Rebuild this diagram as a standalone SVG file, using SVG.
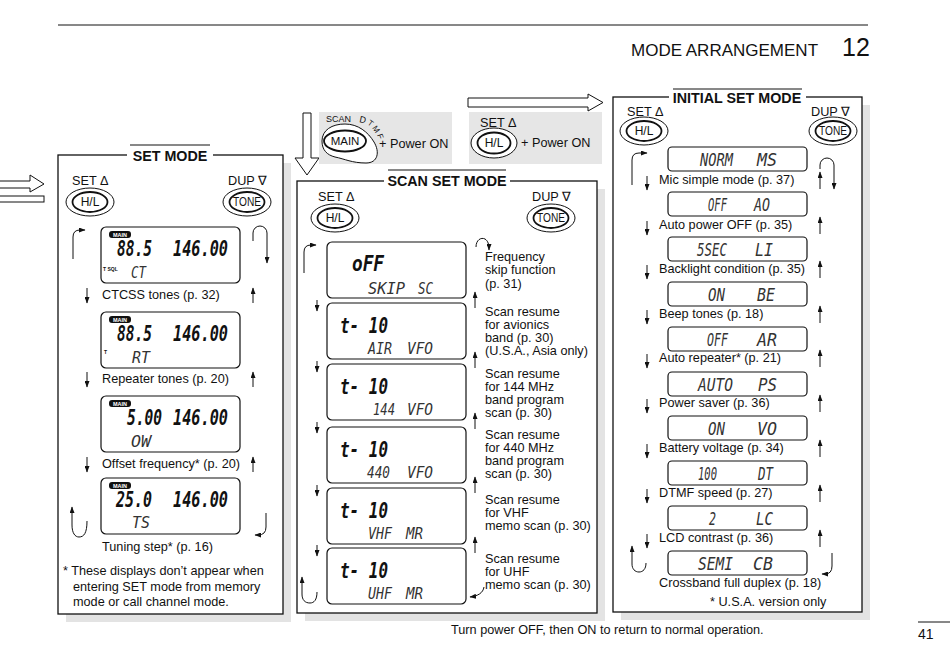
<svg xmlns="http://www.w3.org/2000/svg" width="950" height="669" viewBox="0 0 950 669">
<defs>
<marker id="ah" markerUnits="userSpaceOnUse" markerWidth="7" markerHeight="5" refX="6" refY="2.5" orient="auto"><path d="M0,0 L6.5,2.5 L0,5 z" fill="#111"/></marker>
</defs>
<style>
text{font-family:"Liberation Sans",Arial,sans-serif;fill:#111}
.lb{font-size:12.7px}
.ttl{font-size:14.3px;font-weight:bold;text-anchor:middle}
.sh{fill:#e3e3e3}
.pn{fill:#fff;stroke:#111;stroke-width:1.3}
.gb{fill:#e6e6e6}
.lcd{fill:#fff;stroke:#111;stroke-width:1.2}
.bg{font-family:"DejaVu Sans Mono",monospace;font-style:italic;font-weight:bold;font-size:21px}
.sm{font-family:"DejaVu Sans Mono",monospace;font-style:italic;font-size:15px;fill:#333}
.im{font-family:"DejaVu Sans Mono",monospace;font-style:italic;font-size:17px;fill:#333}
.bo{fill:#fff;stroke:#111;stroke-width:1}
.bi{fill:#fff;stroke:#111;stroke-width:1.8}
.bt{font-size:12px;text-anchor:middle}
.ar{fill:none;stroke:#111;stroke-width:1;marker-end:url(#ah)}
.ln{stroke:#111;stroke-width:1;fill:none}
.wt{fill:#fff;font-size:5.5px;font-weight:bold;text-anchor:middle}
.tiny{font-size:5px;font-weight:bold}
.ho{fill:#fff;stroke:#111;stroke-width:1}
</style>

<!-- header / footer -->
<g id="header">
<line class="ln" x1="58" y1="25" x2="868" y2="25"/>
<text x="631" y="56" font-size="17">MODE ARRANGEMENT</text>
<text x="842" y="56" font-size="25">12</text>
</g>
<g id="footer">
<text class="lb" x="451" y="634">Turn power OFF, then ON to return to normal operation.</text>
<line class="ln" x1="918" y1="622" x2="950" y2="622"/>
<text x="918" y="639" font-size="14">41</text>
</g>

<!-- entry arrows -->
<g id="entry-arrows">
<polygon class="ho" points="-2,181 30,181 30,175 44,184 30,192 30,188 -2,188"/>
<rect class="ho" x="-2" y="196" width="46" height="6"/>
<polygon class="ho" points="303,113 311,113 311,158 319,158 307,175 295,158 303,158"/>
<polygon class="ho" points="468,98 588,98 588,94 603,102.5 588,111 588,107 468,107"/>
</g>

<!-- top key combos -->
<g id="scan-entry">
<rect class="gb" x="319" y="112" width="133" height="52"/>
<text x="326" y="122" font-size="9">SCAN</text>
<text x="359" y="122" font-size="9" transform="rotate(12 359 122)">D</text>
<text x="367" y="124" font-size="8" transform="rotate(35 367 124)">T</text>
<text x="372" y="128" font-size="8" transform="rotate(55 372 128)">M</text>
<text x="377" y="135" font-size="8" transform="rotate(70 377 135)">F</text>
<path class="bo" d="M322,141 C322,130 332,124 345,124 C358,124 368,132 374,142 C380,152 378,163 366,163 C352,163 345,159 335,157 C327,155 322,150 322,141 Z"/>
<ellipse class="bi" cx="345" cy="141" rx="21" ry="10.5"/>
<text x="345" y="145" font-size="11.5" text-anchor="middle">MAIN</text>
<text class="lb" x="379" y="148">+ Power ON</text>
</g>
<g id="initial-entry">
<rect class="gb" x="469" y="112" width="133" height="52"/>
<text class="lb" x="480" y="127">SET Δ</text>
<ellipse class="bo" cx="494" cy="143" rx="23" ry="15"/>
<ellipse class="bi" cx="494" cy="143" rx="16.5" ry="10.5"/>
<text class="bt" x="494" y="147">H/L</text>
<text class="lb" x="521" y="147">+ Power ON</text>
</g>

<!-- SET MODE panel -->
<g id="set-mode">
<rect class="sh" x="66" y="163" width="225" height="459"/>
<rect class="pn" x="58" y="155" width="225" height="459"/>
<rect fill="#fff" x="127" y="149" width="86" height="14"/>
<line class="ln" x1="130" y1="145" x2="210" y2="145"/>
<text class="ttl" x="170" y="161">SET MODE</text>
<text class="lb" x="72" y="185">SET Δ</text>
<text class="lb" x="228" y="185">DUP ∇</text>
<text class="lb" x="102" y="299">CTCSS tones (p. 32)</text>
<text class="lb" x="102" y="383">Repeater tones (p. 20)</text>
<text class="lb" x="102" y="468">Offset frequency* (p. 20)</text>
<text class="lb" x="102" y="551">Tuning step* (p. 16)</text>
<text class="lb" x="63" y="575">* These displays don’t appear when</text>
<text class="lb" x="73" y="591">entering SET mode from memory</text>
<text class="lb" x="73" y="606">mode or call channel mode.</text>
</g>
<g id="set-hl"><ellipse class="bo" cx="90" cy="202" rx="24" ry="14"/><ellipse class="bi" cx="90" cy="202" rx="17.5" ry="10"/><text class="bt" x="90" y="206">H/L</text></g>
<g id="set-tone"><ellipse class="bo" cx="247" cy="202" rx="24" ry="14"/><ellipse class="bi" cx="247" cy="202" rx="17.5" ry="10"/><text class="bt" x="247" y="206" font-size="11" textLength="28" lengthAdjust="spacingAndGlyphs">TONE</text></g>

<g id="set-ct">
<rect class="lcd" x="101" y="227" width="139" height="56" rx="5"/>
<rect x="109" y="231" width="22" height="7" rx="3" fill="#111"/>
<text class="wt" x="120" y="237">MAIN</text>
<text class="bg" x="117" y="256" textLength="35" lengthAdjust="spacingAndGlyphs">88.5</text>
<text class="bg" x="173" y="256" textLength="55" lengthAdjust="spacingAndGlyphs">146.00</text>
<text class="tiny" x="103" y="271">T SQL</text>
<text class="sm" x="131" y="278" textLength="15" lengthAdjust="spacingAndGlyphs">CT</text>
</g>
<g id="set-rt">
<rect class="lcd" x="101" y="312" width="139" height="56" rx="5"/>
<rect x="109" y="316" width="22" height="7" rx="3" fill="#111"/>
<text class="wt" x="120" y="322">MAIN</text>
<text class="bg" x="117" y="341" textLength="35" lengthAdjust="spacingAndGlyphs">88.5</text>
<text class="bg" x="173" y="341" textLength="55" lengthAdjust="spacingAndGlyphs">146.00</text>
<text class="tiny" x="104" y="354">T</text>
<text class="sm" x="132" y="363" textLength="18" lengthAdjust="spacingAndGlyphs">RT</text>
</g>
<g id="set-ow">
<rect class="lcd" x="101" y="396" width="139" height="56" rx="5"/>
<rect x="109" y="400" width="22" height="7" rx="3" fill="#111"/>
<text class="wt" x="120" y="406">MAIN</text>
<text class="bg" x="127" y="425" textLength="35" lengthAdjust="spacingAndGlyphs">5.00</text>
<text class="bg" x="173" y="425" textLength="55" lengthAdjust="spacingAndGlyphs">146.00</text>
<text class="sm" x="131" y="447" textLength="20" lengthAdjust="spacingAndGlyphs">OW</text>
</g>
<g id="set-ts">
<rect class="lcd" x="101" y="478" width="139" height="56" rx="5"/>
<rect x="109" y="482" width="22" height="7" rx="3" fill="#111"/>
<text class="wt" x="120" y="488">MAIN</text>
<text class="bg" x="116" y="507" textLength="36" lengthAdjust="spacingAndGlyphs">25.0</text>
<text class="bg" x="173" y="507" textLength="55" lengthAdjust="spacingAndGlyphs">146.00</text>
<text class="sm" x="132" y="528" textLength="18" lengthAdjust="spacingAndGlyphs">TS</text>
</g>

<!-- SCAN SET MODE panel -->
<g id="scan-set-mode">
<rect class="sh" x="305" y="189" width="300" height="432"/>
<rect class="pn" x="297" y="181" width="300" height="432"/>
<rect fill="#fff" x="384" y="174" width="126" height="14"/>
<line class="ln" x1="388" y1="170" x2="506" y2="170"/>
<text class="ttl" x="447" y="186">SCAN SET MODE</text>
<text class="lb" x="318" y="201">SET Δ</text>
<text class="lb" x="532" y="201">DUP ∇</text>
<text class="lb" x="485" y="261">Frequency</text>
<text class="lb" x="485" y="274">skip function</text>
<text class="lb" x="485" y="288">(p. 31)</text>
<text class="lb" x="485" y="316">Scan resume</text>
<text class="lb" x="485" y="329">for avionics</text>
<text class="lb" x="485" y="342">band (p. 30)</text>
<text class="lb" x="485" y="355">(U.S.A., Asia only)</text>
<text class="lb" x="485" y="378">Scan resume</text>
<text class="lb" x="485" y="391">for 144 MHz</text>
<text class="lb" x="485" y="404">band program</text>
<text class="lb" x="485" y="417">scan (p. 30)</text>
<text class="lb" x="485" y="439">Scan resume</text>
<text class="lb" x="485" y="452">for 440 MHz</text>
<text class="lb" x="485" y="465">band program</text>
<text class="lb" x="485" y="478">scan (p. 30)</text>
<text class="lb" x="485" y="504">Scan resume</text>
<text class="lb" x="485" y="517">for VHF</text>
<text class="lb" x="485" y="530">memo scan (p. 30)</text>
<text class="lb" x="485" y="563">Scan resume</text>
<text class="lb" x="485" y="576">for UHF</text>
<text class="lb" x="485" y="589">memo scan (p. 30)</text>
</g>
<g id="scan-hl"><ellipse class="bo" cx="335" cy="218" rx="24" ry="14"/><ellipse class="bi" cx="335" cy="218" rx="17.5" ry="10"/><text class="bt" x="335" y="222">H/L</text></g>
<g id="scan-tone"><ellipse class="bo" cx="551" cy="218" rx="24" ry="14"/><ellipse class="bi" cx="551" cy="218" rx="17.5" ry="10"/><text class="bt" x="551" y="222" font-size="11" textLength="28" lengthAdjust="spacingAndGlyphs">TONE</text></g>

<g id="scan-skip">
<rect class="lcd" x="327" y="242" width="139" height="56" rx="5"/>
<text class="bg" x="352" y="271" textLength="32" lengthAdjust="spacingAndGlyphs">oFF</text>
<text class="sm" x="368" y="294" textLength="37" lengthAdjust="spacingAndGlyphs">SKIP</text>
<text class="sm" x="418" y="294" textLength="15" lengthAdjust="spacingAndGlyphs">SC</text>
</g>
<g id="scan-air">
<rect class="lcd" x="327" y="303" width="139" height="56" rx="5"/>
<text class="bg" x="340" y="333" textLength="48" lengthAdjust="spacingAndGlyphs">t- 10</text>
<text class="sm" x="368" y="354" textLength="24" lengthAdjust="spacingAndGlyphs">AIR</text>
<text class="sm" x="407" y="354" textLength="26" lengthAdjust="spacingAndGlyphs">VFO</text>
</g>
<g id="scan-144">
<rect class="lcd" x="327" y="364" width="139" height="56" rx="5"/>
<text class="bg" x="340" y="394" textLength="48" lengthAdjust="spacingAndGlyphs">t- 10</text>
<text class="sm" x="373" y="415" textLength="22" lengthAdjust="spacingAndGlyphs">144</text>
<text class="sm" x="407" y="415" textLength="26" lengthAdjust="spacingAndGlyphs">VFO</text>
</g>
<g id="scan-440">
<rect class="lcd" x="327" y="427" width="139" height="56" rx="5"/>
<text class="bg" x="340" y="457" textLength="48" lengthAdjust="spacingAndGlyphs">t- 10</text>
<text class="sm" x="367" y="478" textLength="23" lengthAdjust="spacingAndGlyphs">440</text>
<text class="sm" x="407" y="478" textLength="26" lengthAdjust="spacingAndGlyphs">VFO</text>
</g>
<g id="scan-vhf">
<rect class="lcd" x="327" y="488" width="139" height="56" rx="5"/>
<text class="bg" x="340" y="518" textLength="48" lengthAdjust="spacingAndGlyphs">t- 10</text>
<text class="sm" x="368" y="539" textLength="24" lengthAdjust="spacingAndGlyphs">VHF</text>
<text class="sm" x="406" y="539" textLength="17" lengthAdjust="spacingAndGlyphs">MR</text>
</g>
<g id="scan-uhf">
<rect class="lcd" x="327" y="548" width="139" height="56" rx="5"/>
<text class="bg" x="340" y="578" textLength="48" lengthAdjust="spacingAndGlyphs">t- 10</text>
<text class="sm" x="368" y="599" textLength="24" lengthAdjust="spacingAndGlyphs">UHF</text>
<text class="sm" x="406" y="599" textLength="17" lengthAdjust="spacingAndGlyphs">MR</text>
</g>

<!-- INITIAL SET MODE panel -->
<g id="initial-set-mode">
<rect class="sh" x="621" y="105" width="249" height="515"/>
<rect class="pn" x="613" y="97" width="249" height="515"/>
<rect fill="#fff" x="669" y="91" width="137" height="14"/>
<line class="ln" x1="673" y1="89" x2="802" y2="89"/>
<text class="ttl" x="737" y="103">INITIAL SET MODE</text>
<text class="lb" x="627" y="116">SET Δ</text>
<text class="lb" x="811" y="116">DUP ∇</text>
<text class="lb" x="659" y="184">Mic simple mode (p. 37)</text>
<text class="lb" x="659" y="229">Auto power OFF (p. 35)</text>
<text class="lb" x="659" y="273">Backlight condition (p. 35)</text>
<text class="lb" x="659" y="318">Beep tones (p. 18)</text>
<text class="lb" x="659" y="362">Auto repeater* (p. 21)</text>
<text class="lb" x="659" y="407">Power saver (p. 36)</text>
<text class="lb" x="659" y="452">Battery voltage (p. 34)</text>
<text class="lb" x="659" y="497">DTMF speed (p. 27)</text>
<text class="lb" x="659" y="542">LCD contrast (p. 36)</text>
<text class="lb" x="659" y="587">Crossband full duplex (p. 18)</text>
<text class="lb" x="710" y="606">* U.S.A. version only</text>
</g>
<g id="init-hl"><ellipse class="bo" cx="644" cy="131" rx="24" ry="14"/><ellipse class="bi" cx="644" cy="131" rx="17.5" ry="10"/><text class="bt" x="644" y="135">H/L</text></g>
<g id="init-tone"><ellipse class="bo" cx="833" cy="131" rx="24" ry="14"/><ellipse class="bi" cx="833" cy="131" rx="17.5" ry="10"/><text class="bt" x="833" y="135" font-size="11" textLength="28" lengthAdjust="spacingAndGlyphs">TONE</text></g>

<g id="init-ms"><rect class="lcd" x="668" y="147" width="139" height="24" rx="4"/>
<text class="im" x="700" y="166" textLength="33" lengthAdjust="spacingAndGlyphs">NORM</text><text class="im" x="757" y="166" textLength="20" lengthAdjust="spacingAndGlyphs">MS</text></g>
<g id="init-ao"><rect class="lcd" x="668" y="192" width="139" height="24" rx="4"/>
<text class="im" x="708" y="211" textLength="19" lengthAdjust="spacingAndGlyphs">OFF</text><text class="im" x="754" y="211" textLength="16" lengthAdjust="spacingAndGlyphs">AO</text></g>
<g id="init-li"><rect class="lcd" x="668" y="237" width="139" height="24" rx="4"/>
<text class="im" x="697" y="256" textLength="30" lengthAdjust="spacingAndGlyphs">5SEC</text><text class="im" x="755" y="256" textLength="18" lengthAdjust="spacingAndGlyphs">LI</text></g>
<g id="init-be"><rect class="lcd" x="668" y="282" width="139" height="24" rx="4"/>
<text class="im" x="708" y="301" textLength="17" lengthAdjust="spacingAndGlyphs">ON</text><text class="im" x="757" y="301" textLength="18" lengthAdjust="spacingAndGlyphs">BE</text></g>
<g id="init-ar"><rect class="lcd" x="668" y="327" width="139" height="24" rx="4"/>
<text class="im" x="707" y="346" textLength="21" lengthAdjust="spacingAndGlyphs">OFF</text><text class="im" x="757" y="346" textLength="20" lengthAdjust="spacingAndGlyphs">AR</text></g>
<g id="init-ps"><rect class="lcd" x="668" y="372" width="139" height="24" rx="4"/>
<text class="im" x="698" y="391" textLength="35" lengthAdjust="spacingAndGlyphs">AUTO</text><text class="im" x="758" y="391" textLength="19" lengthAdjust="spacingAndGlyphs">PS</text></g>
<g id="init-vo"><rect class="lcd" x="668" y="416" width="139" height="24" rx="4"/>
<text class="im" x="708" y="435" textLength="17" lengthAdjust="spacingAndGlyphs">ON</text><text class="im" x="757" y="435" textLength="20" lengthAdjust="spacingAndGlyphs">VO</text></g>
<g id="init-dt"><rect class="lcd" x="668" y="461" width="139" height="24" rx="4"/>
<text class="im" x="698" y="480" textLength="19" lengthAdjust="spacingAndGlyphs">100</text><text class="im" x="758" y="480" textLength="15" lengthAdjust="spacingAndGlyphs">DT</text></g>
<g id="init-lc"><rect class="lcd" x="668" y="506" width="139" height="24" rx="4"/>
<text class="im" x="709" y="525" textLength="7" lengthAdjust="spacingAndGlyphs">2</text><text class="im" x="756" y="525" textLength="17" lengthAdjust="spacingAndGlyphs">LC</text></g>
<g id="init-cb"><rect class="lcd" x="668" y="551" width="139" height="24" rx="4"/>
<text class="im" x="698" y="570" textLength="35" lengthAdjust="spacingAndGlyphs">SEMI</text><text class="im" x="753" y="570" textLength="20" lengthAdjust="spacingAndGlyphs">CB</text></g>

<!-- connectors -->
<g id="connectors">
<path class="ar" d="M73,259 V237 Q73,230 80,230 H85"/>
<path class="ar" d="M253,241 V233 A7,7 0 0 1 267,233 V263"/>
<path class="ar" d="M87,288 V303"/><path class="ar" d="M87,372 V387"/><path class="ar" d="M87,457 V472"/>
<path class="ar" d="M253,303 V288"/><path class="ar" d="M253,387 V372"/><path class="ar" d="M253,472 V457"/>
<path class="ar" d="M87,521 C87,533 84,537 79,537 C75,537 72,533 72,525 V507"/>
<path class="ar" d="M266,513 V527 Q266,535 258,535 H255"/>

<path class="ar" d="M304,273 V252 Q304,245 311,245 H316"/>
<path class="ar" d="M476,247 C476,240 481,237 485,239 C488,241 489,244 489,250"/>
<path class="ar" d="M317,300 V311"/><path class="ar" d="M317,361 V372"/><path class="ar" d="M317,422 V433"/><path class="ar" d="M317,485 V496"/><path class="ar" d="M317,545 V556"/>
<path class="ar" d="M475,308 V292"/><path class="ar" d="M475,368 V352"/><path class="ar" d="M475,429 V413"/><path class="ar" d="M475,493 V477"/><path class="ar" d="M475,553 V537"/>
<path class="ar" d="M317,592 C317,600 314,603 310,603 C305,603 302,600 302,594 V577"/>
<path class="ar" d="M484,587 C483,593 478,596 470,597"/>

<path class="ar" d="M632,185 V160 Q632,153 639,153 H647"/>
<path class="ar" d="M820,169 V165 A7,7 0 0 1 834,165 V189"/>
<path class="ar" d="M647,176 V190"/><path class="ar" d="M647,221 V235"/><path class="ar" d="M647,265 V279"/><path class="ar" d="M647,310 V324"/><path class="ar" d="M647,354 V368"/><path class="ar" d="M647,399 V413"/><path class="ar" d="M647,444 V458"/><path class="ar" d="M647,489 V503"/><path class="ar" d="M647,534 V548"/>
<path class="ar" d="M820,189 V172"/><path class="ar" d="M820,234 V217"/><path class="ar" d="M820,278 V261"/><path class="ar" d="M820,323 V306"/><path class="ar" d="M820,367 V350"/><path class="ar" d="M820,412 V395"/><path class="ar" d="M820,457 V440"/><path class="ar" d="M820,502 V485"/><path class="ar" d="M820,547 V530"/>
<path class="ar" d="M646,563 C646,569 643,572 639,572 C635,572 632,569 632,564 V546"/>
<path class="ar" d="M832,553 V566 Q832,574 825,574 H822"/>
</g>
</svg>
